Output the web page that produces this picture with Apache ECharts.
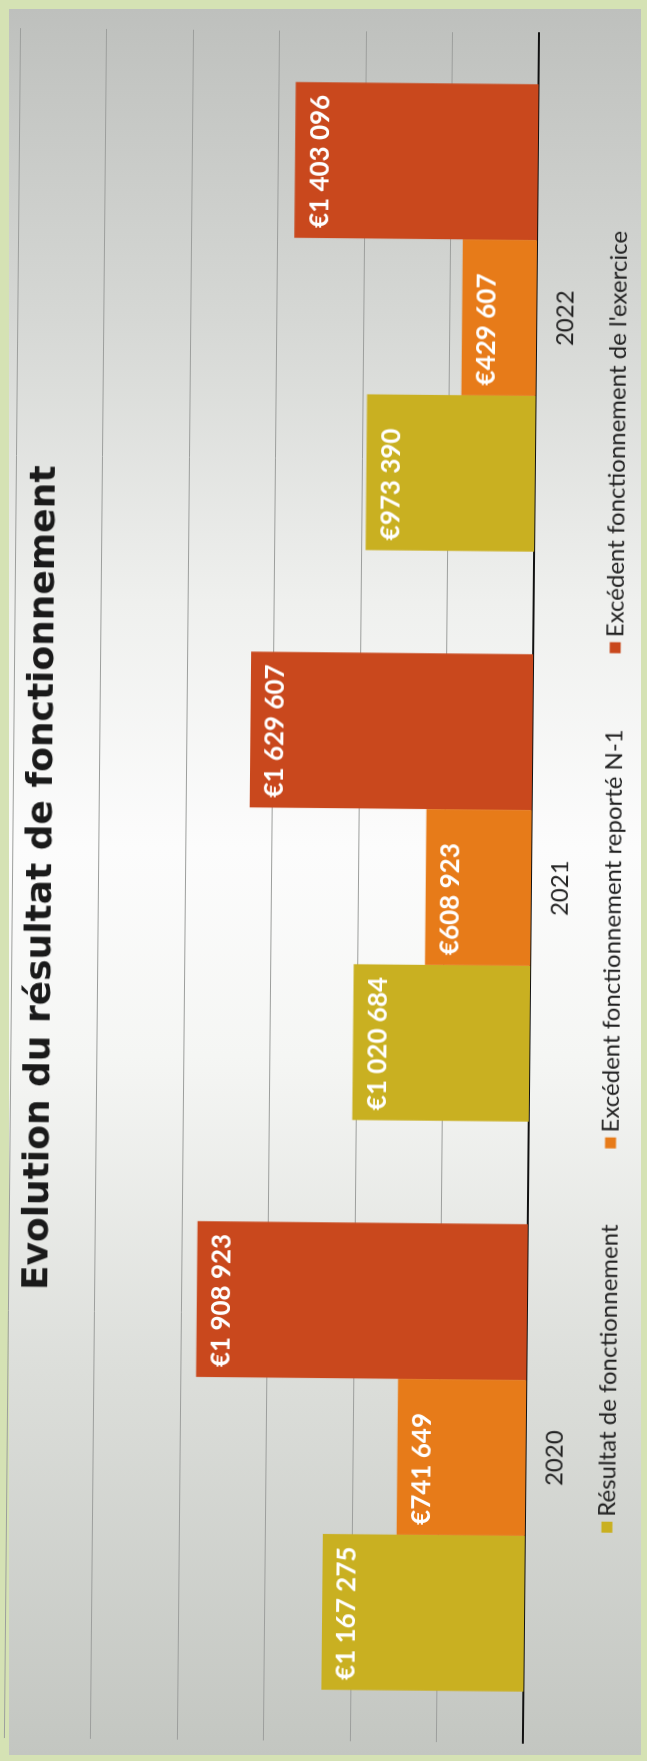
<!DOCTYPE html>
<html>
<head>
<meta charset="utf-8">
<title>Evolution du résultat de fonctionnement</title>
<script src="https://cdn.jsdelivr.net/npm/echarts@6.0.0/dist/echarts.min.js"></script>
<style>
  html, body { margin: 0; padding: 0; width: 647px; height: 1761px; overflow: hidden; background: #d5e2b4; }
  #paper {
    position: absolute; left: 9px; top: 9px; width: 632px; height: 1746px;
    background: linear-gradient(to bottom, #bec0bd 0%, #d6d8d5 18%, #eff0ee 34%, #fcfcfc 48%, #f5f6f4 60%, #dcdeda 78%, #c3c6c1 100%);
  }
  /* the chart is laid out as a column chart, then turned a quarter turn like the scan */
  #chart {
    position: absolute; left: -557px; top: 557px; width: 1761px; height: 647px;
    transform: rotate(-89.46deg);
  }
</style>
</head>
<body>
<div id="paper"></div>
<div id="chart"></div>
<script>
var years = ['2020', '2021', '2022']
var resultat = [1167275, 1020684, 973390]
var reporteN1 = [741649, 608923, 429607]
var exercice = [1908923, 1629607, 1403096]
var seriesNames = [
  'Résultat de fonctionnement',
  'Excédent fonctionnement reporté N-1',
  'Excédent fonctionnement de l\'exercice'
]
var seriesColors = ['#c9b021', '#e77b19', '#c9481d']

function euro(v) {
  return '€' + String(v).replace(/\B(?=(\d{3})+(?!\d))/g, ' ')
}

var chart = echarts.init(document.getElementById('chart'))

function makeSeries(name, data, color) {
  return {
    name: name,
    type: 'bar',
    barGap: '0%',
    barCategoryGap: '18%',
    itemStyle: { color: color },
    label: {
      show: true,
      position: [10, 12],
      align: 'left',
      verticalAlign: 'top',
      color: '#ffffff',
      fontFamily: 'Lato',
      fontWeight: 'bold',
      fontSize: 26,
      formatter: function (p) { return euro(p.value) }
    },
    data: data
  }
}

chart.setOption({
  backgroundColor: 'transparent',
  animation: false,
  title: {
    text: 'Evolution du résultat de fonctionnement',
    left: 'center',
    top: 19,
    textStyle: {
      fontFamily: 'DejaVu Sans',
      fontWeight: 'bold',
      fontSize: 36,
      color: '#1a1a1a'
    }
  },
  legend: {
    top: 596,
    left: 226,
    icon: 'rect',
    itemWidth: 11,
    itemHeight: 11,
    itemGap: 76,
    textStyle: { fontFamily: 'Lato', fontSize: 24, color: '#222222' },
    data: seriesNames
  },
  grid: {
    left: 20,
    right: 31,
    top: 12,
    bottom: 116
  },
  xAxis: {
    type: 'category',
    data: years,
    axisLine: { lineStyle: { color: '#111111', width: 2 } },
    axisTick: { show: false },
    axisLabel: { margin: 17, fontFamily: 'Lato', fontSize: 24, color: '#222222' }
  },
  yAxis: {
    type: 'value',
    min: 0,
    max: 3000000,
    interval: 500000,
    axisLine: { show: false },
    axisTick: { show: false },
    axisLabel: { show: false },
    splitLine: { lineStyle: { color: '#9c9e9c', width: 1 } }
  },
  series: [
    makeSeries(seriesNames[0], resultat, seriesColors[0]),
    makeSeries(seriesNames[1], reporteN1, seriesColors[1]),
    makeSeries(seriesNames[2], exercice, seriesColors[2])
  ]
})
</script>
</body>
</html>
